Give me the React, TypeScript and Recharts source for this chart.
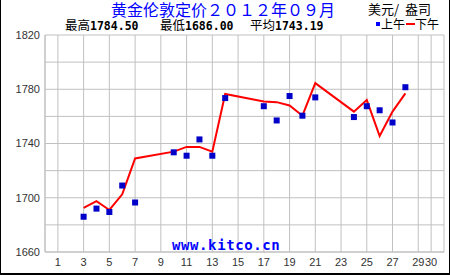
import React from 'react';
import { ComposedChart, Line, Scatter, XAxis, YAxis, CartesianGrid } from 'recharts';

const days = [3, 4, 5, 6, 7, 10, 11, 12, 13, 14, 17, 18, 19, 20, 21, 24, 25, 26, 27, 28];
const amFix = [1686, 1692, 1689.5, 1709, 1696.5, 1733.5, 1731, 1743, 1731, 1773.5, 1767.5, 1757, 1775, 1760.5, 1774, 1759.5, 1767.5, 1764.5, 1755.5, 1781.5];
const pmFix = [1692.5, 1697.5, 1691, 1702.5, 1729, 1734, 1737.5, 1737.5, 1734, 1776.5, 1771, 1770.5, 1768, 1760.5, 1784.5, 1763.5, 1772, 1745.5, 1763.5, 1777];
const xTicks = [0, 1, 3, 5, 7, 9, 11, 13, 15, 17, 19, 21, 23, 25, 27, 29, 30, 31];
const yTicks = [1660, 1680, 1700, 1720, 1740, 1760, 1780, 1800, 1820];
const yLabels = [1660, 1700, 1740, 1780, 1820];

const data = days.map((d, i) => ({ day: d, am: amFix[i], pm: pmFix[i] }));

const Square = (props: any) => {
  const { cx, cy } = props;
  if (cx == null || cy == null) return null;
  return <rect x={cx - 3} y={cy - 3} width={6} height={6} fill="#0000c8" />;
};

const tickStyle = { fontFamily: 'Liberation Sans', fontSize: 11, fill: '#333' };
const cjk = 'Noto Sans CJK SC';

export default function App() {
  return (
    <div style={{ position: 'absolute', left: 0, top: 0, width: 450, height: 275, background: '#fff', overflow: 'hidden' }}>
      <ComposedChart width={450} height={275} data={data} margin={{ top: 35, right: 6, bottom: 0, left: 0 }}>
        <CartesianGrid stroke="#c0c0c0" strokeWidth={1} />
        <XAxis
          type="number"
          dataKey="day"
          domain={[0, 31]}
          ticks={xTicks}
          interval={0}
          tickFormatter={(v: number) => (v === 0 || v === 31 ? '' : String(v))}
          tickLine={false}
          tickSize={0}
          tickMargin={6}
          axisLine={{ stroke: '#c0c0c0' }}
          height={23}
          tick={tickStyle}
        />
        <YAxis
          type="number"
          domain={[1660, 1820]}
          ticks={yTicks}
          interval={0}
          tickFormatter={(v: number) => (yLabels.includes(v) ? String(v) : '')}
          tickLine={false}
          tickSize={0}
          tickMargin={5}
          axisLine={{ stroke: '#c0c0c0' }}
          width={45}
          tick={tickStyle}
        />
        <Line type="linear" dataKey="pm" stroke="#ff0000" strokeWidth={2} dot={false} isAnimationActive={false} />
        <Scatter dataKey="am" shape={<Square />} isAnimationActive={false} />
      </ComposedChart>

      <div style={{ position: 'absolute', left: 100, width: 246, top: 1, textAlign: 'center', fontFamily: cjk, fontSize: 16, lineHeight: '17px', color: '#0000ff', whiteSpace: 'nowrap' }}>
        黄金伦敦定价２０１２年０９月
      </div>
      <div style={{ position: 'absolute', left: 368, top: 1, fontFamily: cjk, fontSize: 13, lineHeight: '15px', color: '#000', whiteSpace: 'pre' }}>
        {'美元/  盎司'}
      </div>
      <div style={{ position: 'absolute', left: 65, top: 18, fontSize: 12.5, lineHeight: '14px', color: '#000', whiteSpace: 'nowrap', fontFamily: cjk }}>
        最高<span style={{ fontFamily: 'DejaVu Sans Mono', fontWeight: 'bold', fontSize: 11.5 }}>1784.50</span>
      </div>
      <div style={{ position: 'absolute', left: 160, top: 18, fontSize: 12.5, lineHeight: '14px', color: '#000', whiteSpace: 'nowrap', fontFamily: cjk }}>
        最低<span style={{ fontFamily: 'DejaVu Sans Mono', fontWeight: 'bold', fontSize: 11.5 }}>1686.00</span>
      </div>
      <div style={{ position: 'absolute', left: 250, top: 18, fontSize: 12.5, lineHeight: '14px', color: '#000', whiteSpace: 'nowrap', fontFamily: cjk }}>
        平均<span style={{ fontFamily: 'DejaVu Sans Mono', fontWeight: 'bold', fontSize: 11.5 }}>1743.19</span>
      </div>
      <div style={{ position: 'absolute', left: 376, top: 22, width: 4, height: 4, background: '#0000ff' }} />
      <div style={{ position: 'absolute', left: 381, top: 17, fontFamily: cjk, fontSize: 12, lineHeight: '14px', color: '#000', whiteSpace: 'nowrap' }}>上午</div>
      <div style={{ position: 'absolute', left: 406, top: 23, width: 9, height: 2, background: '#ff0000' }} />
      <div style={{ position: 'absolute', left: 415, top: 17, fontFamily: cjk, fontSize: 12, lineHeight: '14px', color: '#000', whiteSpace: 'nowrap' }}>下午</div>
      <div style={{ position: 'absolute', left: 172, top: 238, fontFamily: 'DejaVu Sans Mono', fontWeight: 'bold', fontSize: 14, letterSpacing: 0.6, lineHeight: '14px', color: '#0000ff', whiteSpace: 'nowrap' }}>
        www.kitco.cn
      </div>
      <div style={{ position: 'absolute', left: 0, top: 0, width: 450, height: 275, boxSizing: 'border-box', borderLeft: '1px solid #000', borderRight: '1px solid #000', borderBottom: '2px solid #000', pointerEvents: 'none' }} />
    </div>
  );
}
